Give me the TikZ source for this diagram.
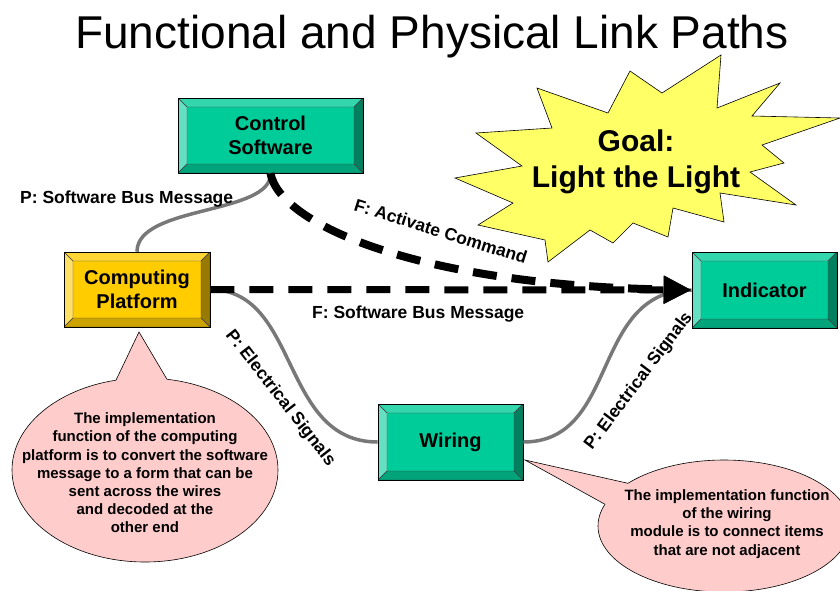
\documentclass[tikz,border=0pt]{standalone}
\usepackage{fontspec}
\setmainfont{Liberation Sans}
\usetikzlibrary{calc,arrows.meta}
\definecolor{gface}{HTML}{00CC99}
\definecolor{gtop}{HTML}{33D6AD}
\definecolor{gleft}{HTML}{66E0C2}
\definecolor{gright}{HTML}{00805F}
\definecolor{gbot}{HTML}{00A37A}
\definecolor{yface}{HTML}{FFCC00}
\definecolor{ytop}{HTML}{FFD633}
\definecolor{yleft}{HTML}{FFE066}
\definecolor{yright}{HTML}{997A00}
\definecolor{ybot}{HTML}{CCA300}
\definecolor{starfill}{HTML}{FFFF66}
\definecolor{calloutfill}{HTML}{FFCCCC}
\definecolor{linkgray}{HTML}{787878}
\newcommand\bevelpic[4]{%
  \path (path picture bounding box.north west) coordinate (pNW)
        (path picture bounding box.north east) coordinate (pNE)
        (path picture bounding box.south west) coordinate (pSW)
        (path picture bounding box.south east) coordinate (pSE);
  \path ($(pNW)+(9,9)$) coordinate (qNW) ($(pNE)+(-9,9)$) coordinate (qNE)
        ($(pSW)+(9,-9)$) coordinate (qSW) ($(pSE)+(-9,-9)$) coordinate (qSE);
  \filldraw[bevline,fill=#1] (pNW) -- (pNE) -- (qNE) -- (qNW) -- cycle;
  \filldraw[bevline,fill=#2] (pNW) -- (qNW) -- (qSW) -- (pSW) -- cycle;
  \filldraw[bevline,fill=#3] (pNE) -- (pSE) -- (qSE) -- (qNE) -- cycle;
  \filldraw[bevline,fill=#4] (pSW) -- (qSW) -- (qSE) -- (pSE) -- cycle;
}
\tikzset{
  bevline/.style={draw=black!75, line width=0.4pt},
  gbox/.style={draw=black, line width=0.6pt, fill=gface, minimum width=145,
    minimum height=76, inner sep=0pt, align=center,
    font=\bfseries\fontsize{20}{24}\selectfont,
    path picture={\bevelpic{gtop}{gleft}{gright}{gbot}}},
  ybox/.style={gbox, fill=yface, path picture={\bevelpic{ytop}{yleft}{yright}{ybot}}},
  glink/.style={draw=linkgray, line width=3.5pt},
  flink/.style={draw=black, line width=7pt, dash pattern=on 24pt off 15pt,
    -{Triangle[length=28pt,width=26pt]}},
  lbl/.style={font=\bfseries\fontsize{17.5}{21}\selectfont, inner sep=0pt},
  callout/.style={fill=calloutfill, draw=black, line width=0.6pt},
  callouttext/.style={font=\bfseries\fontsize{15}{18.2}\selectfont, align=center, inner sep=0pt},
}
\begin{document}
\begin{tikzpicture}[x=1pt,y=-1pt]
\useasboundingbox (0,0) rectangle (840,590);
% title
\node[anchor=base, inner sep=0pt, font=\fontsize{46}{50}\selectfont] (title) at (432,48) {Functional and Physical Link Paths};
% star
\filldraw[fill=starfill, draw=black, line width=0.6pt]
  (721,55) -- (717,108) -- (780,83) -- (752,116) -- (840,118) -- (762,145) -- (784,163)
  -- (750,172) -- (796,205) -- (720,193) -- (724,222) -- (673,208) -- (668,237)
  -- (633,223) -- (613,243) -- (590,230) -- (548,262) -- (545,240) -- (478,225)
  -- (513,203) -- (455,178) -- (522,166) -- (476,133) -- (552,128) -- (537,88)
  -- (608,113) -- (630,71) -- (662,93) -- cycle;
\node[align=center, inner sep=0pt, font=\bfseries\fontsize{30}{36}\selectfont] (goal) at (636,162) {Goal:\\Light the Light};
% boxes
\node[gbox, minimum width=185, minimum height=75] (cs) at (270.5,135.5) {Control\\Software};
\node[ybox, minimum width=146, minimum height=75] (cp) at (137,289.5) {Computing\\Platform};
\node[gbox] (ind) at (764.5,290) {Indicator};
\node[gbox] (wir) at (450.5,442) {Wiring};
% physical links
\draw[glink] (cs.south) .. controls (272,215) and (137,205) .. (cp.north);
\draw[glink] (cp.east) .. controls (300,290) and (280,442) .. (wir.west);
\draw[glink] (wir.east) .. controls (620,442) and (590,290) .. (ind.west);
% functional links
\draw[flink, line width=8pt] (cs.south) .. controls (280,225) and (420,285) .. (ind.west);
\draw[flink] (cp.east) -- (ind.west);
% labels
\node[lbl, anchor=base west] (l1) at (20,203) {P: Software Bus Message};
\node[lbl, anchor=base west, rotate=-17.5] (l2) at (353,210) {F: Activate Command};
\node[lbl, anchor=base west] (l3) at (312,318) {F: Software Bus Message};
\node[lbl, anchor=base west, rotate=-52] (l4) at (225,335) {P: Electrical Signals};
\node[lbl, anchor=base west, rotate=53] (l5) at (592,451) {P: Electrical Signals};
% left callout
\draw[callout] (145,470) ellipse [x radius=133, y radius=92];
\fill[calloutfill] (116,380.2) -- (139,332) -- (167,379.3) -- (167,392) -- (116,392) -- cycle;
\draw[line width=0.6pt] (116,380.2) -- (139,332) -- (167,379.3);
\node[callouttext] (c1) at (145,473) {The implementation\\function of the computing\\platform is to convert the software\\message to a form that can be\\sent across the wires\\and decoded at the\\other end};
% right callout
\coordinate (tip2) at (525,460);
\draw[callout] (724,526) ellipse [x radius=126, y radius=66];
\fill[calloutfill] (628,483.3) -- (tip2) -- (605,504.3) -- (617,510) -- (638,492) -- cycle;
\draw[line width=0.6pt] (628,483.3) -- (tip2) -- (605,504.3);
\node[callouttext] (c2) at (727,524) {The implementation function\\of the wiring\\module is to connect items\\that are not adjacent};
\end{tikzpicture}
\end{document}
